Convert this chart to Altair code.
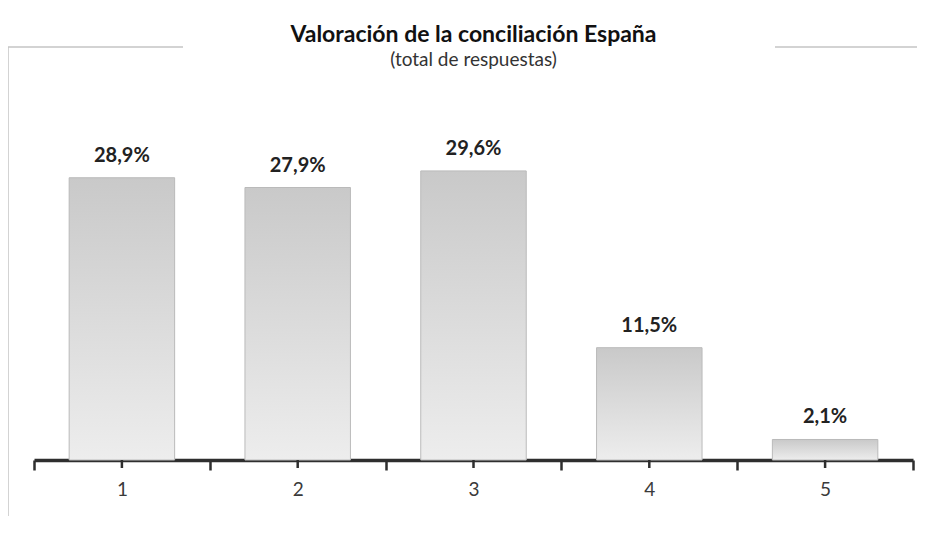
import altair as alt
import pandas as pd

categories = ["1", "2", "3", "4", "5"]
values = [28.9, 27.9, 29.6, 11.5, 2.1]
labels = ["28,9%", "27,9%", "29,6%", "11,5%", "2,1%"]

df = pd.DataFrame({"cat": categories, "val": values, "lab": labels})

W, H = 879, 293
FONT = "Lato"

grad = alt.Gradient(
    gradient="linear",
    stops=[alt.GradientStop(color="#c9c9c9", offset=0),
           alt.GradientStop(color="#ededed", offset=1)],
    x1=0, x2=0, y1=0, y2=1,
)

x = alt.X("cat:N", sort=categories, title=None,
          scale=alt.Scale(paddingInner=0, paddingOuter=0),
          axis=alt.Axis(labelAngle=0, tickBand="extent", tickSize=10, tickWidth=2.5,
                        tickColor="#2e2e2e", domainColor="#2e2e2e", domainWidth=3.5,
                        labelFont=FONT, labelFontSize=19, labelColor="#3a3a3a",
                        labelPadding=10, grid=False))
y = alt.Y("val:Q", scale=alt.Scale(domain=[0, 30]), axis=None)

base = alt.Chart(df)

bars = base.mark_bar(color=grad, stroke="#bababa", strokeWidth=1,
                     width=alt.RelativeBandSize(0.6)).encode(x=x, y=y)

text = base.mark_text(baseline="bottom", dy=-12, font=FONT, fontSize=20,
                      fontWeight="bold", color="#222222").encode(x=x, y=y, text="lab:N")

center_ticks = base.mark_rule(color="#2e2e2e", strokeWidth=2.5).encode(
    x=x, y=alt.value(H), y2=alt.value(H + 8))

frame_df = pd.DataFrame({"k": [0]})
frame_left = alt.Chart(frame_df).mark_rule(color="#c4c4c4", strokeWidth=1.5).encode(
    x=alt.value(-26), y=alt.value(-120), y2=alt.value(H + 70))
frame_top1 = alt.Chart(frame_df).mark_rule(color="#c4c4c4", strokeWidth=1.5).encode(
    x=alt.value(-26), x2=alt.value(149), y=alt.value(-120))
frame_top2 = alt.Chart(frame_df).mark_rule(color="#c4c4c4", strokeWidth=1.5).encode(
    x=alt.value(741), x2=alt.value(883), y=alt.value(-120))

chart = alt.layer(frame_left, frame_top1, frame_top2, bars, center_ticks, text).properties(
    width=W, height=H,
    background="white",
    title=alt.TitleParams(
        text="Valoración de la conciliación España",
        subtitle="(total de respuestas)",
        font=FONT, fontSize=23, fontWeight="bold", color="#111111",
        subtitleFont=FONT, subtitleFontSize=19, subtitleColor="#333333",
        subtitlePadding=4, anchor="middle", offset=-24,
    ),
    autosize=alt.AutoSizeParams(type="none"),
    padding={"left": 26, "top": 159, "right": 4, "bottom": 56},
).configure_view(stroke=None, strokeWidth=0)

chart.save("out.html", embed_options={"renderer": "svg", "actions": False})
